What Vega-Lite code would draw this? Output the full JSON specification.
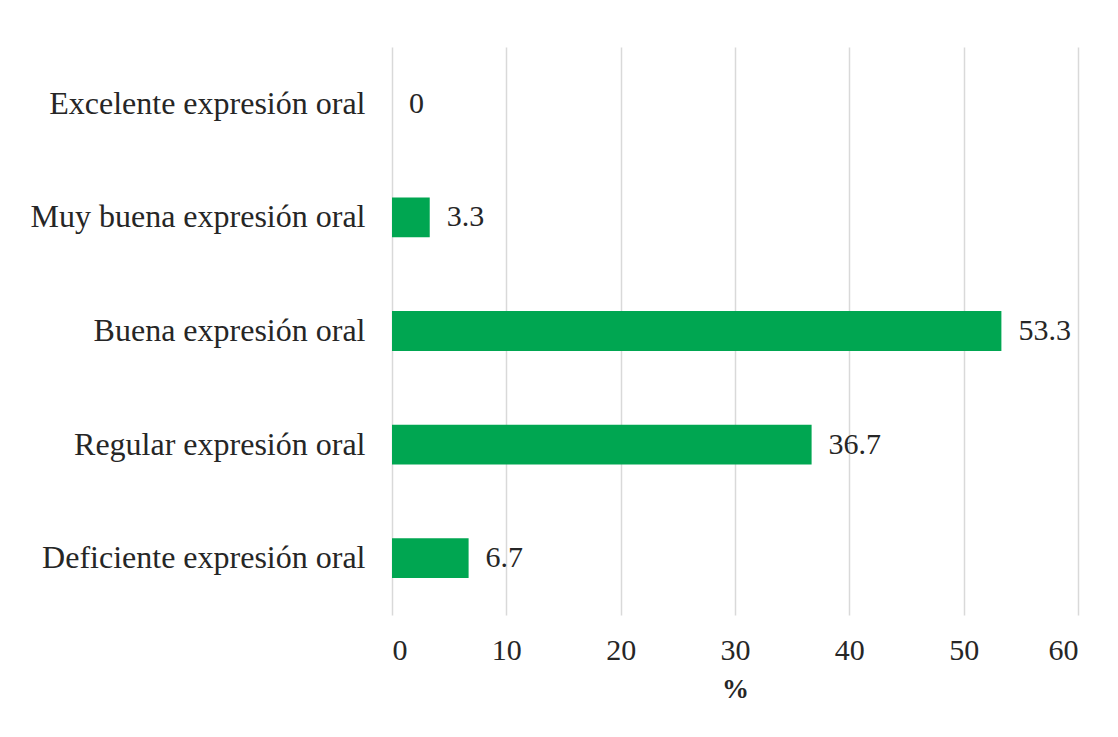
{
  "$schema": "https://vega.github.io/schema/vega-lite/v6.json",
  "width": 686,
  "height": 568,
  "autosize": "none",
  "padding": {"left": 392, "top": 47, "right": 40, "bottom": 122},
  "background": "white",
  "config": {
    "view": {"stroke": null},
    "font": "Liberation Serif",
    "axis": {"labelFont": "Liberation Serif", "titleFont": "Liberation Serif", "labelColor": "#262626", "titleColor": "#262626"}
  },
  "data": {
    "values": [
      {"cat": "Excelente expresión oral", "v": 0},
      {"cat": "Muy buena expresión oral", "v": 3.3},
      {"cat": "Buena expresión oral", "v": 53.3},
      {"cat": "Regular expresión oral", "v": 36.7},
      {"cat": "Deficiente expresión oral", "v": 6.7}
    ]
  },
  "encoding": {
    "y": {
      "field": "cat", "type": "nominal", "sort": null,
      "scale": {"paddingInner": 0.65, "paddingOuter": 0.325},
      "axis": {"title": null, "ticks": false, "domain": false, "labelFontSize": 32, "labelPadding": 27, "labelLimit": 400}
    },
    "x": {
      "field": "v", "type": "quantitative",
      "scale": {"domain": [0, 60]},
      "axis": {"title": "%", "titleFontSize": 27, "titleFontWeight": "bold", "titlePadding": 11, "values": [0, 10, 20, 30, 40, 50, 60], "ticks": false, "domain": false, "labelFontSize": 30, "labelPadding": 20, "gridColor": "#d9d9d9", "gridWidth": 1.5}
    }
  },
  "layer": [
    {"mark": {"type": "bar", "color": "#00A651"}},
    {"mark": {"type": "text", "align": "left", "baseline": "middle", "dx": 17, "fontSize": 30, "color": "#262626"}, "encoding": {"text": {"field": "v", "type": "quantitative"}}}
  ]
}
